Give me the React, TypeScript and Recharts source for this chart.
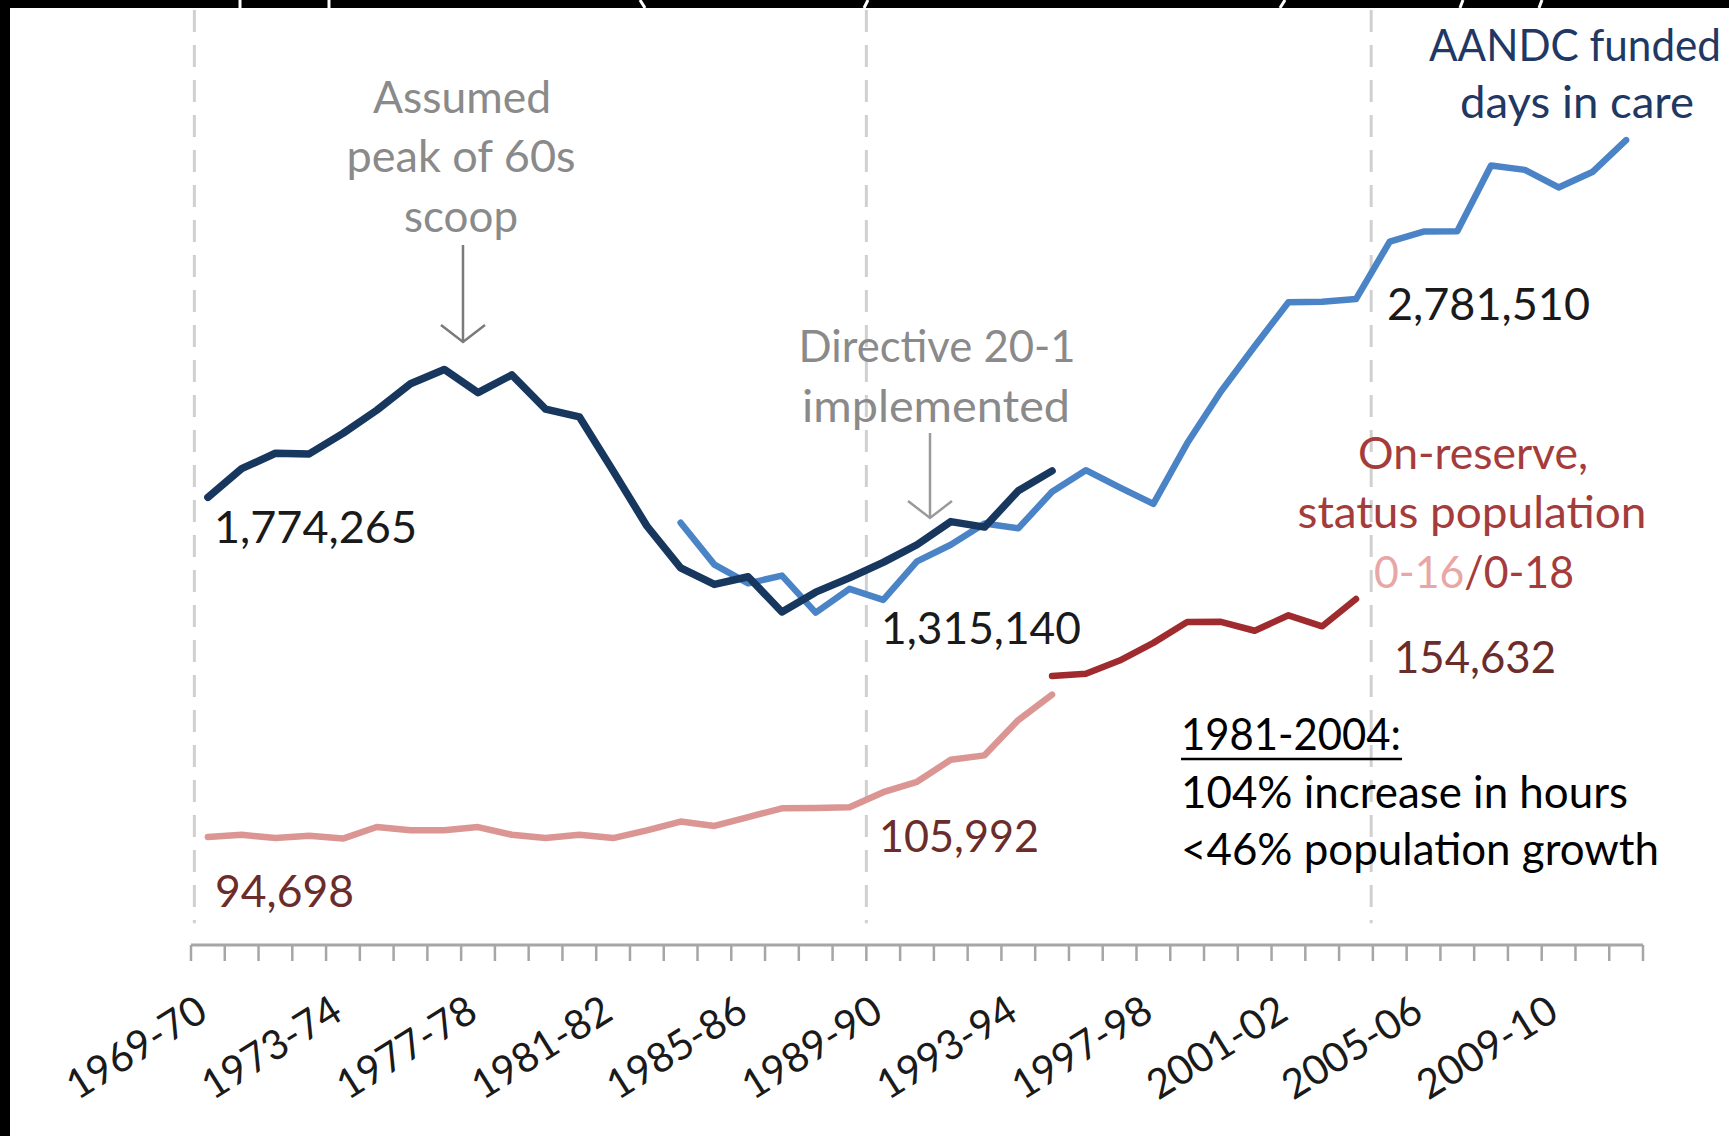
import React from "react";
import { LineChart, Line, XAxis, YAxis, ReferenceLine } from "recharts";

// ---------- data ----------
const years = [
  "1969-70", "1970-71", "1971-72", "1972-73", "1973-74", "1974-75", "1975-76", "1976-77",
  "1977-78", "1978-79", "1979-80", "1980-81", "1981-82", "1982-83", "1983-84", "1984-85",
  "1985-86", "1986-87", "1987-88", "1988-89", "1989-90", "1990-91", "1991-92", "1992-93",
  "1993-94", "1994-95", "1995-96", "1996-97", "1997-98", "1998-99", "1999-00", "2000-01",
  "2001-02", "2002-03", "2003-04", "2004-05", "2005-06", "2006-07", "2007-08", "2008-09",
  "2009-10", "2010-11", "2011-12",
];
const tickLabels = ["1969-70", "1973-74", "1977-78", "1981-82", "1985-86", "1989-90", "1993-94", "1997-98", "2001-02", "2005-06", "2009-10"];

// days in care, earlier series (starts 1969-70)
const daysEarlyStart = "1969-70";
const daysEarly = [
  1774265, 1919900, 1998300, 1995000, 2099100, 2216800, 2351200, 2424000, 2306400, 2396000,
  2222400, 2183200, 1908700, 1628600, 1415700, 1331700, 1370900, 1191700, 1292500, 1365300,
  1443700, 1533400, 1651000, 1623000, 1807800, 1908700,
];
// AANDC funded days in care (starts 1983-84)
const daysAandcStart = "1983-84";
const daysAandc = [
  1645400, 1432500, 1337300, 1376500, 1188500, 1309300, 1253300, 1449300, 1533400, 1641000,
  1617400, 1802200, 1912000, 1824700, 1740600, 2048700, 2312000, 2541700, 2765700, 2768000,
  2781510, 3073800, 3124200, 3126000, 3460300, 3437900, 3348300, 3426700, 3589200,
];
// on-reserve status population 0-16 (starts 1969-70)
const pop016Start = "1969-70";
const pop016 = [
  94698, 95268, 94435, 94990, 94300, 97212, 96379, 96400, 97200, 95268,
  94435, 95268, 94435, 96379, 98601, 97490, 99712, 101934, 102000, 102211,
  105992, 108600, 114154, 115265, 124153, 130540,
];
// on-reserve status population 0-18
const pop018Start = "1994-95";
const pop018 = [135262, 135817, 139151, 143595, 148872, 148900, 146650, 150538, 147760, 154632];

// dashed marker positions (category units, between years)
const markerPositions = [-0.4, 19.5, 34.45];

const seriesAt = (arr: number[], start: string, i: number) => {
  const k = i - years.indexOf(start);
  return k >= 0 && k < arr.length ? arr[k] : undefined;
};

const data = years.map((year, i) => ({
  idx: i,
  year,
  early: seriesAt(daysEarly, daysEarlyStart, i),
  aandc: seriesAt(daysAandc, daysAandcStart, i),
  p016: seriesAt(pop016, pop016Start, i),
  p018: seriesAt(pop018, pop018Start, i),
}));

// tick marks sit between categories; labels sit on category centres
const tickBounds = [...years.map((_, i) => i - 0.5), years.length - 0.5];
const labelIdx = tickLabels.map((t) => years.indexOf(t));
const axisTicks = [...tickBounds, ...labelIdx].sort((a, b) => a - b);

const FONT = 'Lato, "Open Sans", sans-serif';

const AxisTick = (props: any) => {
  const { x, y, payload } = props;
  const v = payload.value;
  if (Number.isInteger(v)) {
    const ax = x + 2;
    const ay = y + 73;
    return (
      <text
        x={ax}
        y={ay}
        transform={`rotate(-32, ${ax}, ${ay})`}
        textAnchor="end"
        fontFamily={FONT}
        fontSize={41}
        fill="#1a1a1a"
        textLength={156}
        lengthAdjust="spacingAndGlyphs"
      >
        {years[v]}
      </text>
    );
  }
  return <line x1={x} y1={y} x2={x} y2={y + 16} stroke="#a6a6a6" strokeWidth={2.5} />;
};

const T = (p: any) => (
  <text
    x={p.x}
    y={p.y}
    textAnchor={p.anchor || "middle"}
    fontFamily={FONT}
    fontSize={p.size || 44}
    fill={p.fill}
    textLength={p.tl}
    lengthAdjust="spacingAndGlyphs"
  >
    {p.children}
  </text>
);

export default function App() {
  const W = 1729;
  const H = 1136;
  return (
    <div style={{ position: "absolute", left: 0, top: 0, width: W, height: H, background: "#ffffff", overflow: "hidden" }}>
      <LineChart width={W} height={H} data={data} margin={{ top: 10, right: 86, bottom: 0, left: 191 }}>
        <XAxis
          xAxisId="t"
          type="number"
          dataKey="idx"
          domain={[-0.5, 42.5]}
          allowDataOverflow
          ticks={axisTicks}
          interval={0}
          height={191}
          tickSize={0}
          tickMargin={0}
          tickLine={false}
          tick={<AxisTick />}
          axisLine={{ stroke: "#a6a6a6", strokeWidth: 3 }}
        />
        <YAxis yAxisId="days" hide domain={[-500000, 4250000]} allowDataOverflow />
        <YAxis yAxisId="pop" hide orientation="right" domain={[67500, 303000]} allowDataOverflow />
        {markerPositions.map((m) => (
          <ReferenceLine
            key={m}
            xAxisId="t"
            yAxisId="days"
            segment={[{ x: m, y: 4250000 }, { x: m, y: -390000 }]}
            stroke="#d0d0d0"
            strokeWidth={3}
            strokeDasharray="22 13"
          />
        ))}
        <Line xAxisId="t" yAxisId="pop" dataKey="p016" stroke="#db9694" strokeWidth={6.5} dot={false} activeDot={false} isAnimationActive={false} strokeLinejoin="round" strokeLinecap="round" />
        <Line xAxisId="t" yAxisId="pop" dataKey="p018" stroke="#a02b2e" strokeWidth={6.5} dot={false} activeDot={false} isAnimationActive={false} strokeLinejoin="round" strokeLinecap="round" />
        <Line xAxisId="t" yAxisId="days" dataKey="aandc" stroke="#4a84c6" strokeWidth={6.5} dot={false} activeDot={false} isAnimationActive={false} strokeLinejoin="round" strokeLinecap="round" />
        <Line xAxisId="t" yAxisId="days" dataKey="early" stroke="#17375e" strokeWidth={7.5} dot={false} activeDot={false} isAnimationActive={false} strokeLinejoin="round" strokeLinecap="round" />
      </LineChart>

      <svg width={W} height={H} style={{ position: "absolute", left: 0, top: 0, pointerEvents: "none" }}>
        {/* gray annotations */}
        <T x={462} y={113} fill="#8a8a8a" tl={178}>Assumed</T>
        <T x={461} y={172} fill="#8a8a8a" tl={229}>peak of 60s</T>
        <T x={461} y={232} fill="#8a8a8a" tl={114}>scoop</T>
        <line x1={463} y1={245} x2={463} y2={341} stroke="#7a7a7a" strokeWidth={2.5} />
        <polyline points="441,325 463,342 485,325" fill="none" stroke="#7a7a7a" strokeWidth={2.5} />
        <T x={937} y={362} fill="#8a8a8a" tl={277}>Directive 20-1</T>
        <T x={936} y={422} fill="#8a8a8a" tl={268}>implemented</T>
        <line x1={930} y1={433} x2={930} y2={517} stroke="#9a9a9a" strokeWidth={2.5} />
        <polyline points="908,501 930,518 952,501" fill="none" stroke="#9a9a9a" strokeWidth={2.5} />

        {/* series titles */}
        <T x={1575} y={61} fill="#1f3864" tl={292}>AANDC funded</T>
        <T x={1577} y={118} fill="#1f3864" tl={234}>days in care</T>
        <T x={1473} y={469} fill="#a53c3c" tl={230}>On-reserve,</T>
        <T x={1472} y={528} fill="#a53c3c" tl={349}>status population</T>
        <text x={1474} y={588} textAnchor="middle" fontFamily={FONT} fontSize={44} textLength={200} lengthAdjust="spacingAndGlyphs">
          <tspan fill="#e8a6a6">0-16</tspan>
          <tspan fill="#a53c3c">/0-18</tspan>
        </text>

        {/* value labels */}
        <T x={214} y={543} anchor="start" fill="#1a1a1a" tl={203}>1,774,265</T>
        <T x={881} y={644} anchor="start" fill="#1a1a1a" tl={200}>1,315,140</T>
        <T x={1387} y={320} anchor="start" fill="#1a1a1a" tl={203}>2,781,510</T>
        <T x={215} y={907} anchor="start" fill="#6b2c2c" tl={139}>94,698</T>
        <T x={879} y={852} anchor="start" fill="#6b2c2c" tl={160}>105,992</T>
        <T x={1394} y={673} anchor="start" fill="#6b2c2c" tl={162}>154,632</T>

        {/* note */}
        <T x={1181} y={750} anchor="start" fill="#000000" tl={220}>1981-2004:</T>
        <line x1={1181} y1={759} x2={1402} y2={759} stroke="#000000" strokeWidth={2.5} />
        <T x={1181} y={808} anchor="start" fill="#000000" tl={447}>104% increase in hours</T>
        <T x={1181} y={865} anchor="start" fill="#000000" tl={478}>&lt;46% population growth</T>

        {/* black frame */}
        <rect x={0} y={0} width={W} height={8} fill="#000000" />
        <rect x={0} y={0} width={10} height={H} fill="#000000" />
        <g stroke="#ffffff" strokeWidth={3}>
          <line x1={240} y1={0} x2={240} y2={8} />
          <line x1={329} y1={0} x2={329} y2={8} />
          <line x1={640} y1={0} x2={645} y2={8} />
          <line x1={868} y1={0} x2={864} y2={8} />
          <line x1={1285} y1={0} x2={1280} y2={8} />
          <line x1={1463} y1={0} x2={1460} y2={8} />
          <line x1={1542} y1={0} x2={1539} y2={8} />
        </g>
      </svg>
    </div>
  );
}
